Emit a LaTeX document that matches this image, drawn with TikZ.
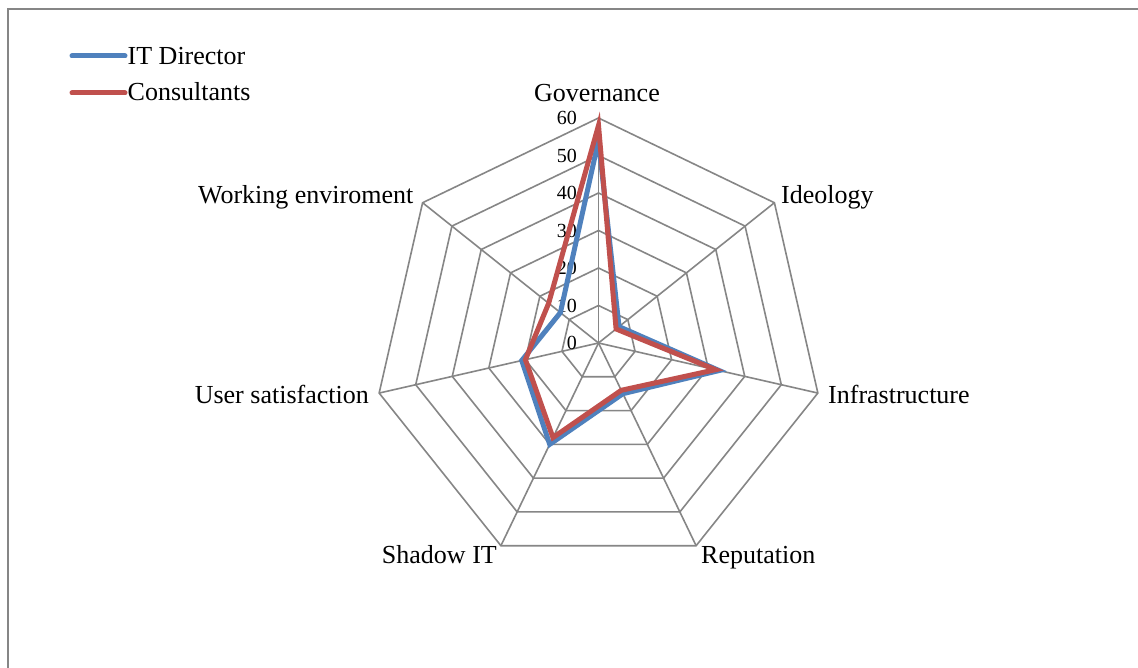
\documentclass[tikz,border=0pt]{standalone}
\usepackage{fontspec}
\setmainfont{Liberation Serif}
\definecolor{gridgray}{HTML}{868686}
\definecolor{serblue}{HTML}{4F81BD}
\definecolor{serred}{HTML}{C0504D}
\begin{document}
\begin{tikzpicture}[x=1pt,y=-1pt,
  grid/.style={draw=gridgray,line width=1.6pt},
  series/.style={line width=5pt,line join=miter},
  legline/.style={line width=5pt,line cap=round},
  cat/.style={font=\fontsize{26}{29}\selectfont,inner sep=0pt},
  ticklab/.style={font=\fontsize{20}{22}\selectfont,inner sep=0pt,anchor=east}]
\useasboundingbox (0,0) rectangle (1138,668);
\fill[white] (0,0) rectangle (1138,668);
\draw[gridgray,line width=1.6pt] (8,680) -- (8,9) -- (1150,9);
\begin{scope}[shift={(598.5,343)}]
  \coordinate (O) at (0,0);
  \foreach \i in {1,...,6}
    \draw[grid] (-90:{\i*37.5}) \foreach \k in {1,...,6}{ -- ({-90+\k*360/7}:{\i*37.5})} -- cycle;
  \foreach \k in {0,...,6}
    \draw[grid] (O) -- ({-90+\k*360/7}:225);
  \foreach \v in {0,10,...,60}
    \node[ticklab] (t\v) at (-21.5,{-\v*3.75}) {\v};
  % IT Director
  \draw[series,serblue] (-90:{54*3.75})
    -- ({-90+1*360/7}:{7*3.75})
    -- ({-90+2*360/7}:{33*3.75})
    -- ({-90+3*360/7}:{15*3.75})
    -- ({-90+4*360/7}:{30*3.75})
    -- ({-90+5*360/7}:{21*3.75})
    -- ({-90+6*360/7}:{13*3.75}) -- cycle;
  % Consultants
  \draw[series,serred] (-90:{58*3.75})
    -- ({-90+1*360/7}:{6*3.75})
    -- ({-90+2*360/7}:{32*3.75})
    -- ({-90+3*360/7}:{14*3.75})
    -- ({-90+4*360/7}:{28*3.75})
    -- ({-90+5*360/7}:{20*3.75})
    -- ({-90+6*360/7}:{17*3.75}) -- cycle;
\end{scope}
% category labels
\node[cat,anchor=base] (gov) at (597,101.5) {Governance};
\node[cat,anchor=base west] (ide) at (781,204) {Ideology};
\node[cat,anchor=base west] (inf) at (828,403) {Infrastructure};
\node[cat,anchor=base west] (rep) at (701,563) {Reputation};
\node[cat,anchor=base east] (sha) at (497,563) {Shadow IT};
\node[cat,anchor=base east] (use) at (369,403) {User satisfaction};
\node[cat,anchor=base east] (wor) at (413.5,203.5) {Working enviroment};
% legend
\coordinate (lb1) at (72,56);
\coordinate (lb2) at (125,56);
\coordinate (lr1) at (72,93);
\coordinate (lr2) at (125,93);
\draw[legline,serblue] (lb1) -- (lb2);
\draw[legline,serred] (lr1) -- (lr2);
\node[cat,anchor=base west] (legb) at (127.5,64.3) {IT Director};
\node[cat,anchor=base west] (legr) at (127.5,100.7) {Consultants};
\end{tikzpicture}
\end{document}
